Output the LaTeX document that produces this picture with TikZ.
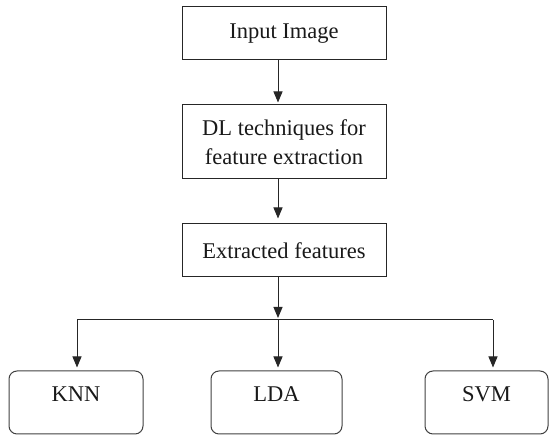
\documentclass[tikz,border=0pt]{standalone}
\usepackage{fontspec}
\setmainfont{Liberation Serif}
\usetikzlibrary{arrows.meta}
\begin{document}
\begin{tikzpicture}[x=1pt,y=1pt,
  every node/.style={font=\fontsize{22.5}{29}\selectfont, text=black!90},
  flowbox/.style={draw=black!85, line width=1pt, minimum width=204pt, inner sep=0pt, align=center},
  leafbox/.style={draw=black!75, line width=1pt, rounded corners=8pt, minimum height=63pt, inner sep=0pt},
  arr/.style={draw=black!85, line width=1pt, -{Triangle[width=9pt,length=11pt]}},
  ln/.style={draw=black!85, line width=1pt}]
\useasboundingbox (0,0) rectangle (549,435);
\node[flowbox, minimum height=53pt] (in) at (284,401.5) {Input Image};
\node[flowbox, minimum height=74pt] (dl) at (284,293) {DL techniques for\\feature extraction};
\node[flowbox, minimum height=53pt] (ex) at (284,184.5) {Extracted features};
\node[leafbox, minimum width=134pt, label={[anchor=center, yshift=-23.5pt]north:KNN}] (knn) at (76,32.5) {};
\node[leafbox, minimum width=131pt, label={[anchor=center, yshift=-23.5pt]north:LDA}] (lda) at (276.5,32.5) {};
\node[leafbox, minimum width=123pt, label={[anchor=center, yshift=-23.5pt]north:SVM}] (svm) at (486.5,32.5) {};
\coordinate (j) at (278,115);
\coordinate (hl) at (77,115);
\coordinate (hr) at (493,115);
\draw[arr] ([xshift=-6pt]in.south) -- ([xshift=-6pt,yshift=2pt]dl.north);
\draw[arr] ([xshift=-6pt]dl.south) -- ([xshift=-6pt,yshift=5pt]ex.north);
\draw[arr] ([xshift=-6pt]ex.south) -- ([yshift=2pt]j);
\draw[ln] (hl) -- (hr);
\draw[arr] (hl) -- ([yshift=3pt]hl |- knn.north);
\draw[arr] (j) -- ([yshift=3pt]j |- lda.north);
\draw[arr] (hr) -- ([yshift=3pt]hr |- svm.north);
\end{tikzpicture}
\end{document}
